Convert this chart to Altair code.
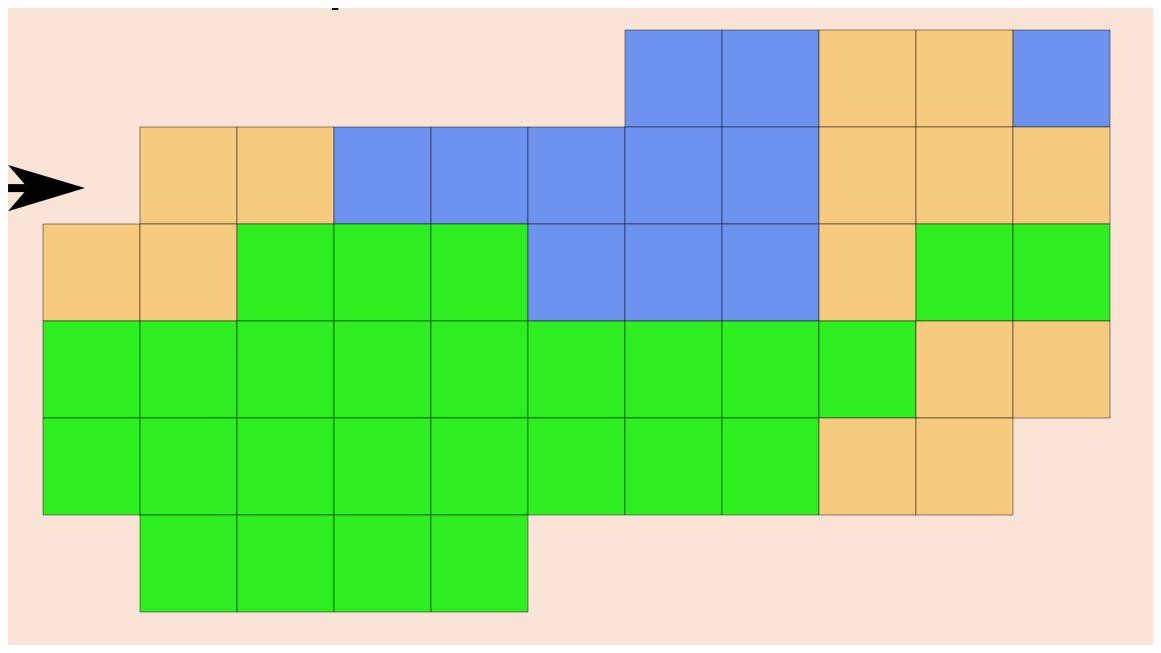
import altair as alt
import pandas as pd

# Grid layout: one string per row, one letter per column (B=blue, O=orange, G=green, .=empty)
row0 = "......BBOOB"
row1 = ".OOBBBBBOOO"
row2 = "OOGGGBBBOGG"
row3 = "GGGGGGGGGOO"
row4 = "GGGGGGGGOO."
row5 = ".GGGG......"
rows = [row0, row1, row2, row3, row4, row5]

kinds = ["B", "O", "G"]
kind_colors = ["#6E93EE", "#F6CB80", "#2EEE21"]

title_text = "Mancini/Ra vs Moon"

# arrow (grid units)
arrow_row = 1.63
arrow_tail = -0.36
arrow_notch = -0.13
arrow_center = 0.036

recs = []
for r, line in enumerate(rows):
    for c, ch in enumerate(line):
        if ch != ".":
            recs.append({"c": c, "c2": c + 1, "r": r, "r2": r + 1, "k": ch})
cells = pd.DataFrame(recs)

W, H = 1145, 637
CELL = 97.0
xdom = [-35 / CELL, -35 / CELL + W / CELL]
ydom = [-22 / CELL, -22 / CELL + H / CELL]

xs = alt.Scale(domain=xdom, nice=False, zero=False)
ys = alt.Scale(domain=ydom, nice=False, zero=False, reverse=True)

grid = alt.Chart(cells).mark_rect(
    stroke="#000000", strokeOpacity=0.45, strokeWidth=1
).encode(
    x=alt.X("c:Q", scale=xs, axis=None),
    x2="c2:Q",
    y=alt.Y("r:Q", scale=ys, axis=None),
    y2="r2:Q",
    color=alt.Color("k:N", scale=alt.Scale(domain=kinds, range=kind_colors), legend=None),
)

shaft = alt.Chart(pd.DataFrame({"x": [arrow_tail], "x2": [arrow_notch], "y": [arrow_row]})).mark_rule(
    color="black", strokeWidth=8
).encode(
    x=alt.X("x:Q", scale=xs, axis=None), x2="x2:Q", y=alt.Y("y:Q", scale=ys, axis=None)
)

head = alt.Chart(pd.DataFrame({"x": [arrow_center], "y": [arrow_row]})).mark_point(
    shape="M1,0 L-1,-0.6 L-0.48,0 L-1,0.6 Z",
    filled=True, color="black", opacity=1, size=5929, strokeWidth=0,
).encode(
    x=alt.X("x:Q", scale=xs, axis=None), y=alt.Y("y:Q", scale=ys, axis=None)
)

title = alt.Chart(pd.DataFrame({"t": [title_text]})).mark_text(
    align="left", baseline="alphabetic", fontSize=75, font="DejaVu Sans", color="black"
).encode(
    text="t:N", x=alt.value(35), y=alt.value(-5)
)

chart = alt.layer(grid, shaft, head, title).properties(
    width=W, height=H, background="#FAE4D7", padding=0,
    autosize=alt.AutoSizeParams(type="none"),
).configure_view(stroke=None)

chart.save("out.html", embed_options={"renderer": "svg", "actions": False})
